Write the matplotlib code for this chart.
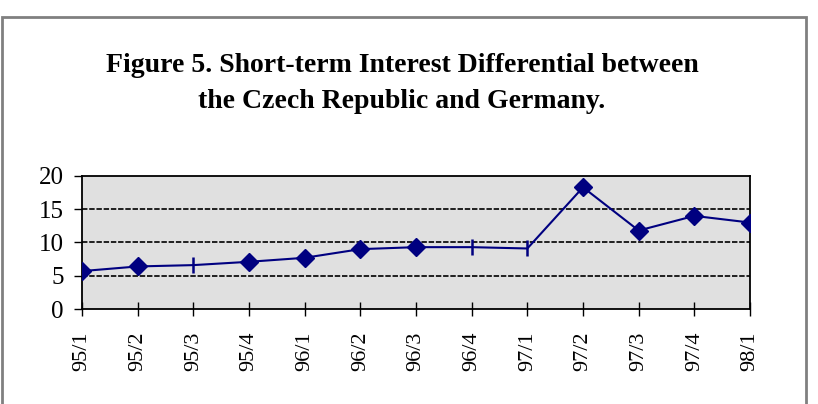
import matplotlib.pyplot as plt
from matplotlib.patches import Rectangle

quarters = ['95/1', '95/2', '95/3', '95/4', '96/1', '96/2', '96/3',
            '96/4', '97/1', '97/2', '97/3', '97/4', '98/1']
differential = [5.7, 6.4, 6.6, 7.1, 7.7, 9.0, 9.3, 9.3, 9.1, 18.3, 11.8, 14.0, 13.0]
# quarters drawn with a plain tick instead of a diamond
tick_marked = ['95/3', '96/4', '97/1']

plt.rcParams['font.family'] = ['Liberation Serif', 'DejaVu Serif']

fig = plt.figure(figsize=(8.18, 4.04), dpi=100)
fig.patches.append(Rectangle((2 / 818, -0.05), 804 / 818, 1.05 - 17 / 404,
                             transform=fig.transFigure, fill=False,
                             edgecolor='#808080', linewidth=2))

ax = fig.add_axes([82 / 818, 1 - 309 / 404, 668 / 818, 133 / 404])
ax.set_facecolor('#e0e0e0')

x = list(range(len(quarters)))
ax.plot(x, differential, color='#000080', linewidth=1.5, zorder=3)
for xi, q, v in zip(x, quarters, differential):
    if q in tick_marked:
        ax.plot(xi, v, marker='|', color='#000080', markersize=12,
                markeredgewidth=1.8, zorder=4)
    else:
        ax.plot(xi, v, marker='D', color='#000080', markersize=9, zorder=4)

ax.set_xlim(0, len(quarters) - 1)
ax.set_ylim(0, 20)
ax.set_yticks([0, 5, 10, 15, 20])
ax.set_xticks(x)
ax.set_xticklabels(quarters, rotation=90)
for yv in [5, 10, 15]:
    ax.axhline(yv, color='#101010', linewidth=1.3, linestyle=(0, (3, 1)), zorder=2)
ax.tick_params(axis='x', direction='inout', length=10, width=1, pad=11, labelsize=16)
ax.tick_params(axis='y', direction='out', length=6, width=1, pad=7, labelsize=18)
for s in ax.spines.values():
    s.set_color('black')
    s.set_linewidth(1.3)

fig.text(402 / 818, 1 - 66 / 404, 'Figure 5. Short-term Interest Differential between',
         ha='center', va='center', fontsize=20, fontweight='bold')
fig.text(402 / 818, 1 - 101 / 404, 'the Czech Republic and Germany.',
         ha='center', va='center', fontsize=20, fontweight='bold')

fig.savefig('out.png', dpi=100)
